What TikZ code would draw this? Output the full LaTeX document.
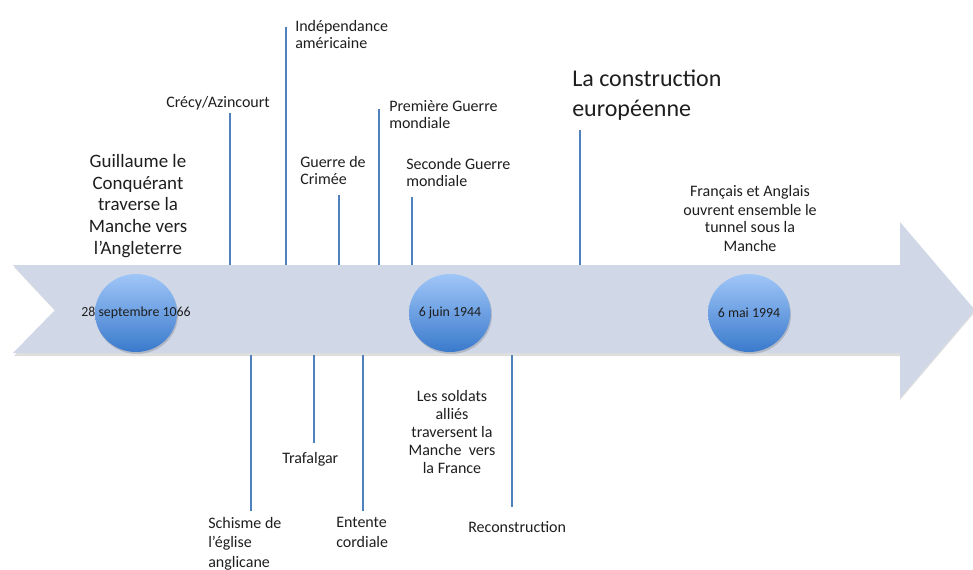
\documentclass[tikz,border=0pt]{standalone}
\usepackage{fontspec}
\setmainfont{Carlito}
\usetikzlibrary{shapes.geometric}
\definecolor{arrowfill}{RGB}{208,216,232}
\definecolor{tick}{RGB}{79,129,189}
\definecolor{ctop}{RGB}{160,198,248}
\definecolor{cbot}{RGB}{58,122,204}
\definecolor{txt}{RGB}{30,30,30}
\begin{document}
\begin{tikzpicture}[x=0.75pt,y=-0.75pt,
  tickline/.style={draw=tick,line width=1.6pt},
  lbl/.style={inner sep=0pt,text=txt,font=\fontsize{12}{13.2}\selectfont},
  datecirc/.style={ellipse,minimum width=61.5pt,minimum height=58.5pt,inner sep=0pt,
     top color=ctop,bottom color=cbot,draw=none,
     font=\fontsize{10.4}{12}\selectfont,text=txt}]
\useasboundingbox (0,0) rectangle (973,570);
% arrow shadow
\fill[black,opacity=0.13] (14,267) -- (900,267) -- (900,224) -- (975,312) -- (900,400) -- (900,356) -- (14,356) -- (56,312) -- cycle;
% arrow
\fill[arrowfill] (13,265) -- (900,265) -- (900,222) -- (975,310) -- (900,398) -- (900,353) -- (13,353) -- (55,310) -- cycle;
% top tick coordinates
\coordinate (t1a) at (230,113); \coordinate (t1b) at (230,265);
\coordinate (t2a) at (286,27);  \coordinate (t2b) at (286,265);
\coordinate (t3a) at (339,195); \coordinate (t3b) at (339,265);
\coordinate (t4a) at (379,109); \coordinate (t4b) at (379,265);
\coordinate (t5a) at (412,197); \coordinate (t5b) at (412,265);
\coordinate (t6a) at (580,130); \coordinate (t6b) at (580,265);
% bottom tick coordinates
\coordinate (b1a) at (251,355); \coordinate (b1b) at (251,511);
\coordinate (b2a) at (314,355); \coordinate (b2b) at (314,443);
\coordinate (b3a) at (363,355); \coordinate (b3b) at (363,511);
\coordinate (b4a) at (512,355); \coordinate (b4b) at (512,507);
\foreach \i in {t1,t2,t3,t4,t5,t6,b1,b2,b3,b4} \draw[tickline] (\i a) -- (\i b);
% circles
\fill[black,opacity=0.15] (137,315) ellipse (41 and 39);
\fill[black,opacity=0.15] (451,315) ellipse (41 and 39);
\fill[black,opacity=0.15] (750,315) ellipse (41 and 39);
\node[datecirc] (c1) at (136,313) {\makebox[0pt]{28 septembre 1066}};
\node[datecirc] (c2) at (450,313) {\makebox[0pt]{6 juin 1944}};
\node[datecirc] (c3) at (749,313) {\makebox[0pt]{6 mai 1994}};
% labels (base anchor = baseline of last line)
\node[lbl,anchor=base,align=center,font=\fontsize{14.2}{16.2}\selectfont] (guil) at (138,254)
  {Guillaume le\\Conquérant\\traverse la\\Manche vers\\l’Angleterre};
\node[lbl,anchor=base west] (crecy) at (166,108) {Crécy/Azincourt};
\node[lbl,anchor=base west,align=left] (indep) at (295,49) {Indépendance\\américaine};
\node[lbl,anchor=base west,align=left] (crimee) at (300,185) {Guerre de\\Crimée};
\node[lbl,anchor=base west,align=left] (ww1) at (389,129) {Première Guerre\\mondiale};
\node[lbl,anchor=base west,align=left] (ww2) at (406,187) {Seconde Guerre\\mondiale};
\node[lbl,anchor=base west,align=left,font=\fontsize{18}{22.5}\selectfont] (europe) at (572,117) {La construction\\européenne};
\node[lbl,anchor=base,align=center,font=\fontsize{12}{13.5}\selectfont] (tunnel) at (750,251)
  {Français et Anglais\\ouvrent ensemble le\\tunnel sous la\\Manche};
\node[lbl,anchor=base west,align=left,font=\fontsize{12}{14.6}\selectfont] (schisme) at (208,567) {Schisme de\\l’église\\anglicane};
\node[lbl,anchor=base west] (trafalgar) at (282,463) {Trafalgar};
\node[lbl,anchor=base west,align=left,font=\fontsize{12}{15}\selectfont] (entente) at (336,547) {Entente\\cordiale};
\node[lbl,anchor=base,align=center,font=\fontsize{12}{13.4}\selectfont] (soldats) at (452,473)
  {Les soldats\\alliés\\traversent la\\Manche~ vers\\la France};
\node[lbl,anchor=base west] (recon) at (468,532) {Reconstruction};
\end{tikzpicture}
\end{document}
